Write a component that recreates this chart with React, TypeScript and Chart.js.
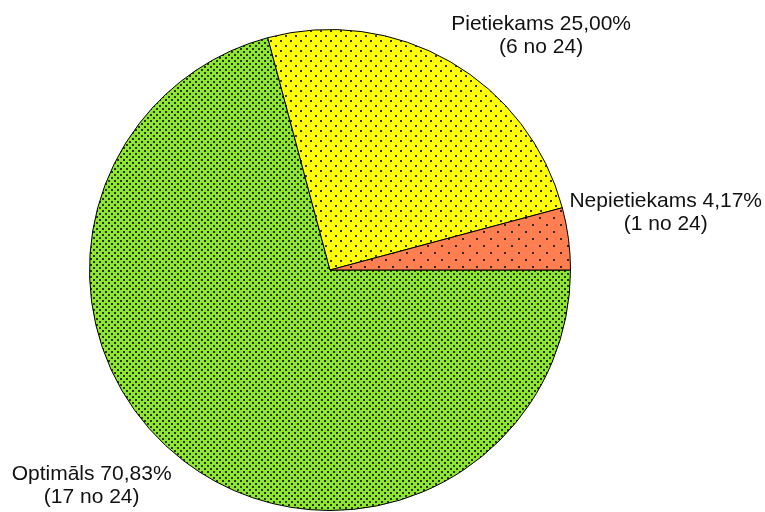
import React, { useEffect, useRef } from "react";
import { Chart, registerables } from "chart.js";

Chart.register(...registerables);

const categories = ["Optimāls", "Pietiekams", "Nepietiekams"];
const counts = [17, 6, 1];
const total = 24;
const percentLabels = ["70,83%", "25,00%", "4,17%"];
const baseColors = ["#8fe62e", "#ffff00", "#ff7f50"];
const dotSpacing = [6, 10, 14];

function makePattern(color: string, step: number): CanvasPattern | string {
  const c = document.createElement("canvas");
  c.width = step;
  c.height = step;
  const ctx = c.getContext("2d");
  if (!ctx) return color;
  ctx.fillStyle = color;
  ctx.fillRect(0, 0, step, step);
  ctx.fillStyle = "rgba(20,20,20,0.85)";
  ctx.fillRect(0, 0, 2, 2);
  const h = Math.floor(step / 2);
  ctx.fillRect(h, h, 2, 2);
  const p = ctx.createPattern(c, "repeat");
  return p || color;
}

const labelPlugin = {
  id: "pieLabels",
  afterDraw(chart: any) {
    const ctx = chart.ctx;
    const meta = chart.getDatasetMeta(0);
    ctx.save();
    ctx.font = '21px "Liberation Sans", Arial, sans-serif';
    ctx.fillStyle = "#111";
    ctx.textBaseline = "middle";
    meta.data.forEach((arc: any, i: number) => {
      const { x, y, startAngle, endAngle, outerRadius } = arc.getProps(
        ["x", "y", "startAngle", "endAngle", "outerRadius"],
        true
      );
      const mid = (startAngle + endAngle) / 2;
      const ax = x + Math.cos(mid) * outerRadius;
      const ay = y + Math.sin(mid) * outerRadius;
      const line1 = categories[i] + " " + percentLabels[i];
      const line2 = "(" + counts[i] + " no " + total + ")";
      const w = ctx.measureText(line1).width;
      const right = Math.cos(mid) >= 0;
      let left: number;
      let cy: number;
      if (right) {
        left = ax + 1;
        cy = ay - 26;
      } else {
        left = ax - 12 - w;
        cy = ay + 25;
      }
      ctx.textAlign = "center";
      ctx.fillText(line1, left + w / 2, cy - 11.5);
      ctx.fillText(line2, left + w / 2, cy + 11.5);
    });
    ctx.restore();
  },
};

export default function App() {
  const ref = useRef<HTMLCanvasElement>(null);
  useEffect(() => {
    document.body.style.margin = "0";
    if (!ref.current) return;
    const bg = baseColors.map((c, i) => makePattern(c, dotSpacing[i]));
    const chart = new Chart(ref.current, {
      type: "pie",
      data: {
        labels: categories,
        datasets: [
          {
            data: counts,
            backgroundColor: bg as any,
            borderColor: "#000",
            borderWidth: 1,
          },
        ],
      },
      options: {
        responsive: false,
        animation: false,
        rotation: 90,
        layout: { padding: { top: 29, bottom: 1, left: 89, right: 194 } },
        plugins: {
          legend: { display: false },
          tooltip: { enabled: false },
        },
      },
      plugins: [labelPlugin],
    });
    return () => chart.destroy();
  }, []);
  return (
    <div style={{ width: 765, height: 512, background: "#fff" }}>
      <canvas ref={ref} width={765} height={512} />
    </div>
  );
}
